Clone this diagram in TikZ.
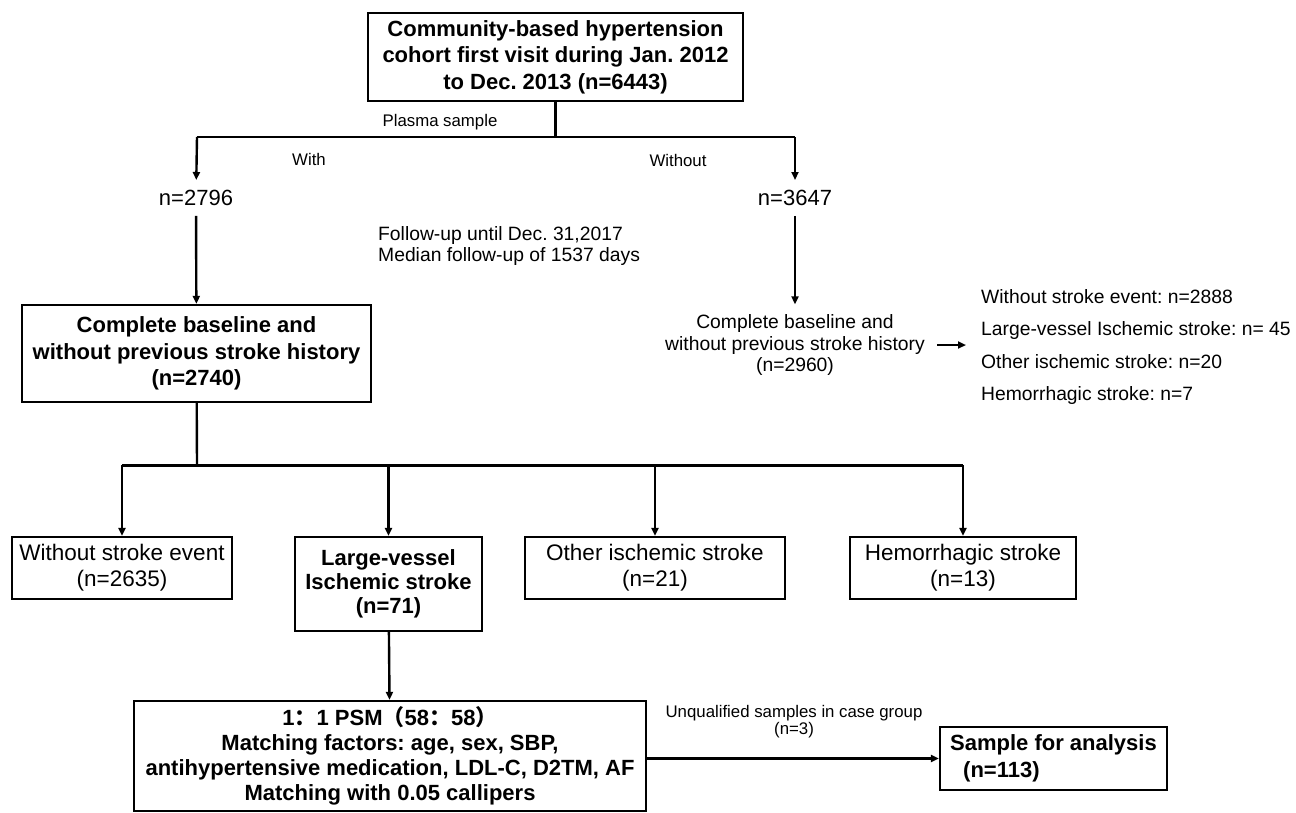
\documentclass[tikz,border=0pt]{standalone}
\usepackage{fontspec}
\setmainfont{Liberation Sans}
\newfontfamily\cjk{Noto Sans CJK SC}
\usepackage{tikz}
\usetikzlibrary{arrows.meta,positioning}
\frenchspacing

\begin{document}
\begin{tikzpicture}[x=1pt,y=-1pt,
    box/.style={draw,line width=2.2pt,align=center,inner sep=0pt},
    big/.style={font=\fontsize{22}{26.5}\selectfont\bfseries},
    reg/.style={font=\fontsize{22.5}{26}\selectfont},
    mid/.style={font=\fontsize{19.3}{21.5}\selectfont,inner sep=0pt},
    small/.style={font=\fontsize{16.8}{17}\selectfont,inner sep=0pt},
    num/.style={font=\fontsize{22}{26}\selectfont,inner sep=10pt},
    ln/.style={line width=2.4pt},
    arr/.style={-{Triangle[length=8pt,width=7pt]},line width=2.4pt}]
\useasboundingbox (0,0) rectangle (1296,812);

\node[box,big,minimum width=375pt,minimum height=88pt] (cohort) at (555.5,57)
  {Community-based hypertension\\cohort first visit during Jan. 2012\\to Dec. 2013 (n=6443)};
\coordinate (split) at (555.5,137);
\coordinate (wl) at (197,137);
\coordinate (wr) at (795,137);
\node[small] (plasma) at (440,122) {Plasma sample};
\node[small] (with) at (309,159) {With};
\node[small] (without) at (678,160) {Without};

\node[num] (n2796) at (196,198) {n=2796};
\node[num] (n3647) at (795,198) {n=3647};

\draw[ln] (cohort.south) -- (split);
\draw[ln] (wl) -- (wr);
\draw[arr] (wl) -- (n2796);
\draw[arr] (wr) -- (n3647);

% with plasma sample
\node[box,big,minimum width=349pt,minimum height=97pt] (base) at (196.5,353.5)
  {Complete baseline and\\without previous stroke history\\(n=2740)};
\draw[arr] (n2796) -- (base);
\node[mid,align=left,anchor=west] (follow) at (378,246)
  {Follow-up until Dec. 31,2017\\Median follow-up of 1537 days};

% without plasma sample
\node[mid,align=center,inner sep=10pt] (rbase) at (795,345)
  {Complete baseline and\\without previous stroke history\\(n=2960)};
\draw[arr] (n3647) -- (rbase);
\node[mid,align=left,anchor=west,font=\fontsize{19.3}{32.5}\selectfont] (risk) at (981,347)
  {Without stroke event: n=2888\\Large-vessel Ischemic stroke: n= 45\\Other ischemic stroke: n=20\\Hemorrhagic stroke: n=7};
\draw[arr,shorten <=2pt,shorten >=15pt] (rbase.east) -- (rbase.east -| risk.west);

% outcome groups
\coordinate (bar) at (197,465);
\node[box,reg,minimum width=220pt,minimum height=62pt] (nostroke) at (122,568)
  {Without stroke event\\(n=2635)};
\node[box,big,font=\fontsize{22}{24}\selectfont\bfseries,minimum width=187pt,minimum height=94pt] (lvis) at (388.5,584)
  {Large-vessel\\Ischemic stroke\\(n=71)};
\node[box,reg,minimum width=260pt,minimum height=62pt] (other) at (655,568)
  {Other ischemic stroke\\(n=21)};
\node[box,reg,minimum width=226pt,minimum height=62pt] (hemo) at (963,568)
  {Hemorrhagic stroke\\(n=13)};
\draw[ln] (base) -- (bar);
\draw[line width=3pt] (nostroke.north |- bar) -- (hemo.north |- bar);
\draw[arr] (nostroke.north |- bar) -- (nostroke.north);
\draw[arr] (lvis.north |- bar) -- (lvis.north);
\draw[arr] (other.north |- bar) -- (other.north);
\draw[arr] (hemo.north |- bar) -- (hemo.north);

% matching
\node[box,big,font=\fontsize{22}{25}\selectfont\bfseries,minimum width=512pt,minimum height=110pt] (psm) at (390,756)
  {1{\cjk ：}1 PSM{\cjk （}58{\cjk ：}58{\cjk ）}\\Matching factors: age, sex, SBP,\\antihypertensive medication, LDL-C, D2TM, AF\\Matching with 0.05 callipers};
\draw[arr] (lvis) -- (psm);
\node[box,big,align=left,minimum width=227pt,minimum height=63pt] (sample) at (1053.5,758.5)
  {Sample for analysis\\\hspace*{13pt}(n=113)};
\draw[arr] (psm.east |- sample.west) -- (sample.west);
\node[small,align=center] (unq) at (794,722) {Unqualified samples in case group\\(n=3)};
\end{tikzpicture}
\end{document}
